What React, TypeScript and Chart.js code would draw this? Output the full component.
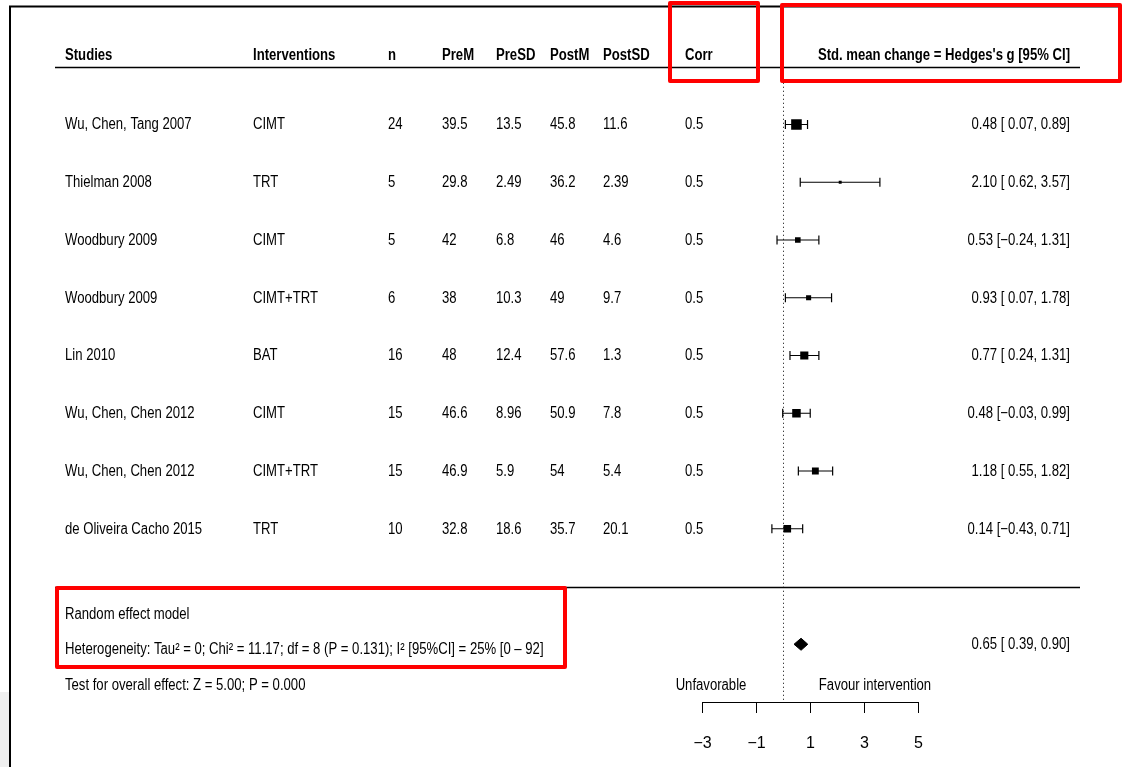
import React, { useEffect, useRef } from "react";
import { Chart, registerables } from "chart.js";

Chart.register(...registerables);

// ---- Study table -------------------------------------------------------
const studies = [
  "Wu, Chen, Tang 2007",
  "Thielman 2008",
  "Woodbury 2009",
  "Woodbury 2009",
  "Lin 2010",
  "Wu, Chen, Chen 2012",
  "Wu, Chen, Chen 2012",
  "de Oliveira Cacho 2015",
];
const interventions = ["CIMT", "TRT", "CIMT", "CIMT+TRT", "BAT", "CIMT", "CIMT+TRT", "TRT"];
const sampleSizes = [24, 5, 5, 6, 16, 15, 15, 10];
const preMeans = [39.5, 29.8, 42, 38, 48, 46.6, 46.9, 32.8];
const preSDs = [13.5, 2.49, 6.8, 10.3, 12.4, 8.96, 5.9, 18.6];
const postMeans = [45.8, 36.2, 46, 49, 57.6, 50.9, 54, 35.7];
const postSDs = [11.6, 2.39, 4.6, 9.7, 1.3, 7.8, 5.4, 20.1];
const correlations = [0.5, 0.5, 0.5, 0.5, 0.5, 0.5, 0.5, 0.5];

// ---- Effect sizes (Hedges's g with 95% CI) -----------------------------
const hedgesG = [0.48, 2.1, 0.53, 0.93, 0.77, 0.48, 1.18, 0.14];
const ciLower = [0.07, 0.62, -0.24, 0.07, 0.24, -0.03, 0.55, -0.43];
const ciUpper = [0.89, 3.57, 1.31, 1.78, 1.31, 0.99, 1.82, 0.71];

const pooledG = 0.65;
const pooledLower = 0.39;
const pooledUpper = 0.9;

const xTicks = [-3, -1, 1, 3, 5];
const columnHeaders = ["Studies", "Interventions", "n", "PreM", "PreSD", "PostM", "PostSD", "Corr"];
const effectHeader = "Std. mean change = Hedges's g [95% CI]";
const modelLabel = "Random effect model";
const heterogeneityLabel =
  "Heterogeneity: Tau\u00b2 = 0; Chi\u00b2 = 11.17; df = 8 (P = 0.131); I\u00b2 [95%CI] = 25% [0 \u2013 92]";
const overallLabel = "Test for overall effect: Z = 5.00; P = 0.000";
const leftLabel = "Unfavorable";
const rightLabel = "Favour intervention";

// ---- Layout ------------------------------------------------------------
const W = 1122;
const H = 767;
const COL_X = [65, 253, 388, 442, 496, 550, 603, 685];
const EFFECT_RIGHT = 1070;
const RULE_LEFT = 55;
const RULE_RIGHT = 1080;
const FONT_SIZE = 16;

function detectNarrow(): boolean {
  const c = document.createElement("canvas").getContext("2d");
  if (!c) return false;
  const probe = "Heterogeneity Wu, Chen 2007";
  c.font = "16px monospace";
  const a = c.measureText(probe).width;
  c.font = "16px 'Liberation Sans Narrow', monospace";
  const b = c.measureText(probe).width;
  return Math.abs(a - b) > 0.5;
}

const fmt = (v: number) => (v < 0 ? "\u2212" + Math.abs(v).toFixed(2) : v.toFixed(2));
const ciText = (g: number, lo: number, hi: number) =>
  `${fmt(g)} [${lo < 0 ? "" : " "}${fmt(lo)}, ${fmt(hi)}]`;

export default function App() {
  const canvasRef = useRef<HTMLCanvasElement | null>(null);

  useEffect(() => {
    const canvas = canvasRef.current;
    if (!canvas) return;
    const narrow = detectNarrow();
    const family = narrow
      ? "'Liberation Sans Narrow', 'Liberation Sans', Arial, sans-serif"
      : "'Liberation Sans', Arial, sans-serif";
    const squeeze = narrow ? 1 : 0.82;

    const rows = studies.map((_, i) => i + 1);
    const pooledRow = rows.length + 2;

    // inverse-variance weights from the CI widths set the box areas
    const weights = ciLower.map((lo, i) => {
      const se = (ciUpper[i] - lo) / 3.92;
      return 1 / (se * se);
    });
    const wMax = Math.max(...weights);
    const boxSide = weights.map((w) => 10.6 * Math.sqrt(w / wMax));

    const ciSets = studies.map((s, i) => ({
      type: "scatter" as const,
      label: s,
      data: [
        { x: ciLower[i], y: rows[i] },
        { x: ciUpper[i], y: rows[i] },
      ],
      showLine: true,
      borderColor: "#000",
      borderWidth: 1.2,
      pointStyle: "line" as const,
      pointRotation: 90,
      pointRadius: 4.5,
      pointBorderColor: "#000",
      pointBorderWidth: 1.2,
      order: 2,
    }));

    const diamondHalf = 0.104;

    const chart = new Chart(canvas, {
      type: "scatter",
      data: {
        datasets: [
          {
            label: "Hedges's g",
            data: hedgesG.map((g, i) => ({ x: g, y: rows[i] })),
            pointStyle: "rect",
            pointRadius: boxSide.map((s) => s / (2 * Math.SQRT1_2)),
            pointBackgroundColor: "#000",
            pointBorderWidth: 0,
            order: 0,
          },
          ...ciSets,
          {
            label: "pooled upper",
            data: [
              { x: pooledLower, y: pooledRow },
              { x: pooledG, y: pooledRow - diamondHalf },
              { x: pooledUpper, y: pooledRow },
            ],
            showLine: true,
            borderColor: "#000",
            borderWidth: 1,
            pointRadius: 0,
            order: 1,
          },
          {
            label: "pooled lower",
            data: [
              { x: pooledLower, y: pooledRow },
              { x: pooledG, y: pooledRow + diamondHalf },
              { x: pooledUpper, y: pooledRow },
            ],
            showLine: true,
            borderColor: "#000",
            backgroundColor: "#000",
            borderWidth: 1,
            pointRadius: 0,
            fill: "-1",
            order: 1,
          },
          {
            label: "no effect",
            data: [
              { x: 0, y: 0 },
              { x: 0, y: 11 },
            ],
            showLine: true,
            borderColor: "#000",
            borderWidth: 1,
            borderDash: [1, 3],
            pointRadius: 0,
            order: 3,
          },
        ],
      },
      options: {
        responsive: false,
        animation: false,
        events: [],
        layout: { padding: { left: 702.5, right: W - 918.5, top: 9, bottom: 0 } },
        plugins: {
          legend: { display: false },
          tooltip: { enabled: false },
          filler: { propagate: false },
        },
        scales: {
          x: {
            type: "linear",
            position: "bottom",
            min: -3,
            max: 5,
            afterBuildTicks: (s: any) => {
              s.ticks = xTicks.map((v) => ({ value: v }));
            },
            afterFit: (s: any) => {
              s.height = 65;
            },
            grid: {
              drawOnChartArea: false,
              drawTicks: true,
              tickLength: 11,
              color: "#000",
              lineWidth: 1,
            },
            border: { display: true, color: "#000", width: 1 },
            ticks: {
              color: "#000",
              font: { family, size: FONT_SIZE },
              padding: 21,
              maxRotation: 0,
              autoSkip: false,
              callback: (v: any) => (Number(v) < 0 ? "\u2212" + Math.abs(Number(v)) : String(v)),
            },
          },
          y: {
            type: "linear",
            display: false,
            reverse: true,
            min: -1,
            max: 11,
          },
        },
      },
      plugins: [
        {
          id: "forestFrame",
          beforeDraw(c: any) {
            const ctx = c.ctx as CanvasRenderingContext2D;
            ctx.save();
            ctx.fillStyle = "#ffffff";
            ctx.fillRect(0, 0, W, H);
            ctx.fillStyle = "#efefef";
            ctx.fillRect(0, 692, 9, H - 692);
            ctx.strokeStyle = "#000";
            ctx.lineWidth = 2;
            ctx.beginPath();
            ctx.moveTo(10, H);
            ctx.lineTo(10, 6.5);
            ctx.lineTo(W, 6.5);
            ctx.stroke();
            ctx.restore();
          },
        },
        {
          id: "forestTable",
          afterDraw(c: any) {
            const ctx = c.ctx as CanvasRenderingContext2D;
            const yS = c.scales.y;
            const text = (
              t: string,
              x: number,
              row: number,
              align: CanvasTextAlign = "left",
              bold = false
            ) => {
              ctx.save();
              ctx.font = `${bold ? "bold " : ""}${FONT_SIZE}px ${family}`;
              ctx.fillStyle = "#000";
              ctx.textAlign = align;
              ctx.textBaseline = "middle";
              ctx.translate(x, yS.getPixelForValue(row) + 0.5);
              ctx.scale(squeeze, 1);
              ctx.fillText(t, 0, 0);
              ctx.restore();
            };
            const rule = (row: number) => {
              const y = Math.round(yS.getPixelForValue(row)) + 0.5;
              ctx.save();
              ctx.strokeStyle = "#000";
              ctx.lineWidth = 1.3;
              ctx.beginPath();
              ctx.moveTo(RULE_LEFT, y);
              ctx.lineTo(RULE_RIGHT, y);
              ctx.stroke();
              ctx.restore();
            };

            // header
            const headerRow = -0.2;
            columnHeaders.forEach((h, i) => text(h, COL_X[i], headerRow, "left", true));
            text(effectHeader, EFFECT_RIGHT, headerRow, "right", true);
            rule(0);

            // study rows
            studies.forEach((s, i) => {
              const r = rows[i];
              const cells = [
                s,
                interventions[i],
                String(sampleSizes[i]),
                String(preMeans[i]),
                String(preSDs[i]),
                String(postMeans[i]),
                String(postSDs[i]),
                String(correlations[i]),
              ];
              cells.forEach((cell, j) => text(cell, COL_X[j], r));
              text(ciText(hedgesG[i], ciLower[i], ciUpper[i]), EFFECT_RIGHT, r, "right");
            });

            rule(rows.length + 1);

            // pooled estimate
            text(modelLabel, COL_X[0], 9.48);
            text(heterogeneityLabel, COL_X[0], 10.08);
            text(overallLabel, COL_X[0], 10.7);
            text(ciText(pooledG, pooledLower, pooledUpper), EFFECT_RIGHT, pooledRow, "right");
            text(leftLabel, 711, 10.7, "center");
            text(rightLabel, 875, 10.7, "center");

            // highlight boxes
            ctx.save();
            ctx.strokeStyle = "#ff0000";
            ctx.lineWidth = 4;
            ctx.lineJoin = "round";
            ctx.strokeRect(670, 3, 88, 78);
            ctx.strokeRect(782, 5, 338, 76);
            ctx.strokeRect(57, 588, 508, 79);
            ctx.restore();
          },
        },
      ],
    } as any);

    return () => chart.destroy();
  }, []);

  return (
    <div style={{ position: "absolute", left: 0, top: 0, width: W, height: H, background: "#fff" }}>
      <canvas ref={canvasRef} width={W} height={H} style={{ display: "block" }} />
    </div>
  );
}
